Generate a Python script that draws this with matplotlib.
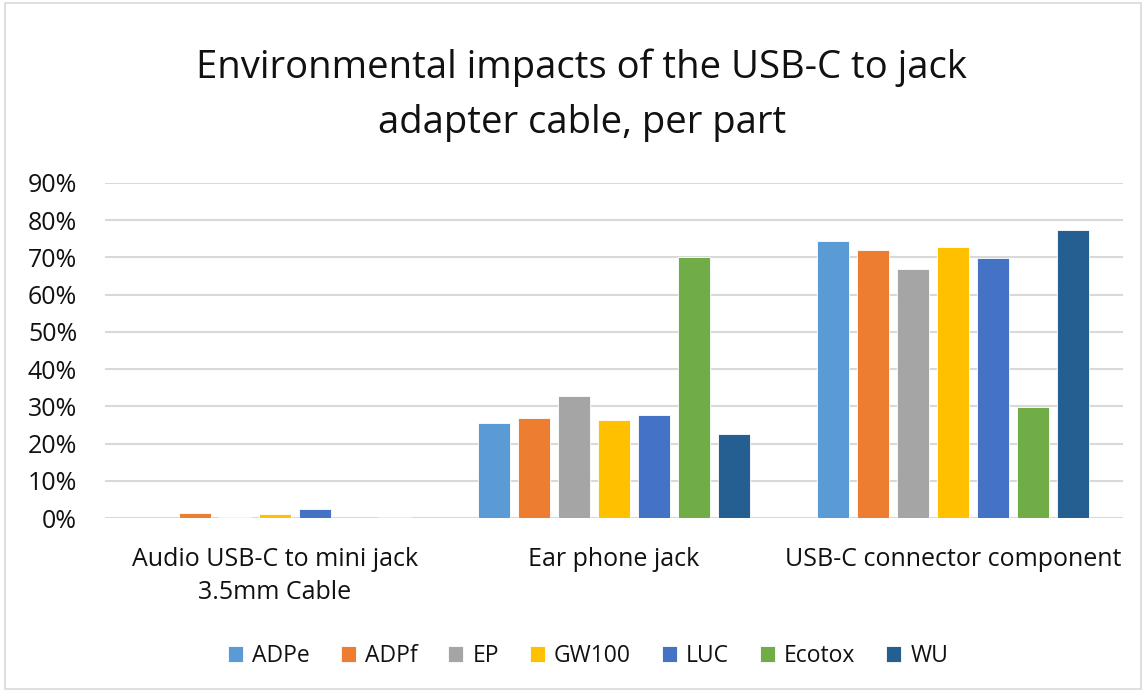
import matplotlib
matplotlib.use("Agg")
import matplotlib.pyplot as plt
import numpy as np
from matplotlib.patches import Rectangle

plt.rcParams['font.family'] = ['Open Sans', 'DejaVu Sans']

categories = ["Audio USB-C to mini jack\n3.5mm Cable", "Ear phone jack", "USB-C connector component"]
series = ["ADPe", "ADPf", "EP", "GW100", "LUC", "Ecotox", "WU"]
colors = ["#5B9BD5", "#ED7D31", "#A5A5A5", "#FFC000", "#4472C4", "#70AD47", "#255E91"]
ADPe = [0.1, 25.4, 74.3]
ADPf = [1.3, 26.8, 72.0]
EP = [0.3, 32.8, 66.9]
GW100 = [1.0, 26.2, 72.8]
LUC = [2.5, 27.6, 69.9]
Ecotox = [0.1, 70.1, 29.7]
WU = [0.2, 22.6, 77.3]
values = [ADPe, ADPf, EP, GW100, LUC, Ecotox, WU]
yticks = [0, 10, 20, 30, 40, 50, 60, 70, 80, 90]

W, H = 1146, 692
fig = plt.figure(figsize=(W/100, H/100), dpi=100)
fig.patches.append(Rectangle((0.004, 0.004), 0.992, 0.992, transform=fig.transFigure,
                             fill=False, edgecolor="#D9D9D9", linewidth=1.2))
ax = fig.add_axes([105/W, 1-518/H, (1123-105)/W, (518-183)/H])

x = np.arange(len(categories))
cat_px = (1123-105)/3
slot = 40/cat_px
bw = 32/cat_px
n = len(series)
for i, (s, v, c) in enumerate(zip(series, values, colors)):
    ax.bar(x + (i - (n-1)/2)*slot, v, width=bw, color=c, edgecolor="white", linewidth=0.6, label=s, zorder=3)

ax.set_xlim(-0.5, 2.5)
ax.set_ylim(0, 90)
ax.set_yticks(yticks)
ax.set_yticklabels([f"{t}%" for t in yticks], fontsize=18, color="#111111")
ax.set_xticks(x)
ax.set_xticklabels(categories, fontsize=18, color="#111111", linespacing=1.4)
ax.tick_params(axis='both', length=0)
ax.tick_params(axis='y', pad=20)
ax.tick_params(axis='x', pad=21)
for sp in ax.spines.values():
    sp.set_visible(False)
ax.yaxis.grid(True, color="#D9D9D9", linewidth=1.5, zorder=0)
ax.set_axisbelow(True)

fig.text(582/W, 1-95/H, "Environmental impacts of the USB-C to jack\nadapter cable, per part",
         ha='center', va='center', fontsize=27.5, color="#111111", linespacing=1.6)

leg = fig.legend(loc='center', bbox_to_anchor=(588/W, 1-656/H), ncol=7, frameon=False,
                 fontsize=16.5, handlelength=0.65, handleheight=0.65, handletextpad=0.4,
                 columnspacing=1.35)
for t in leg.get_texts():
    t.set_color("#111111")

fig.savefig("out.png", dpi=100, facecolor="white")
